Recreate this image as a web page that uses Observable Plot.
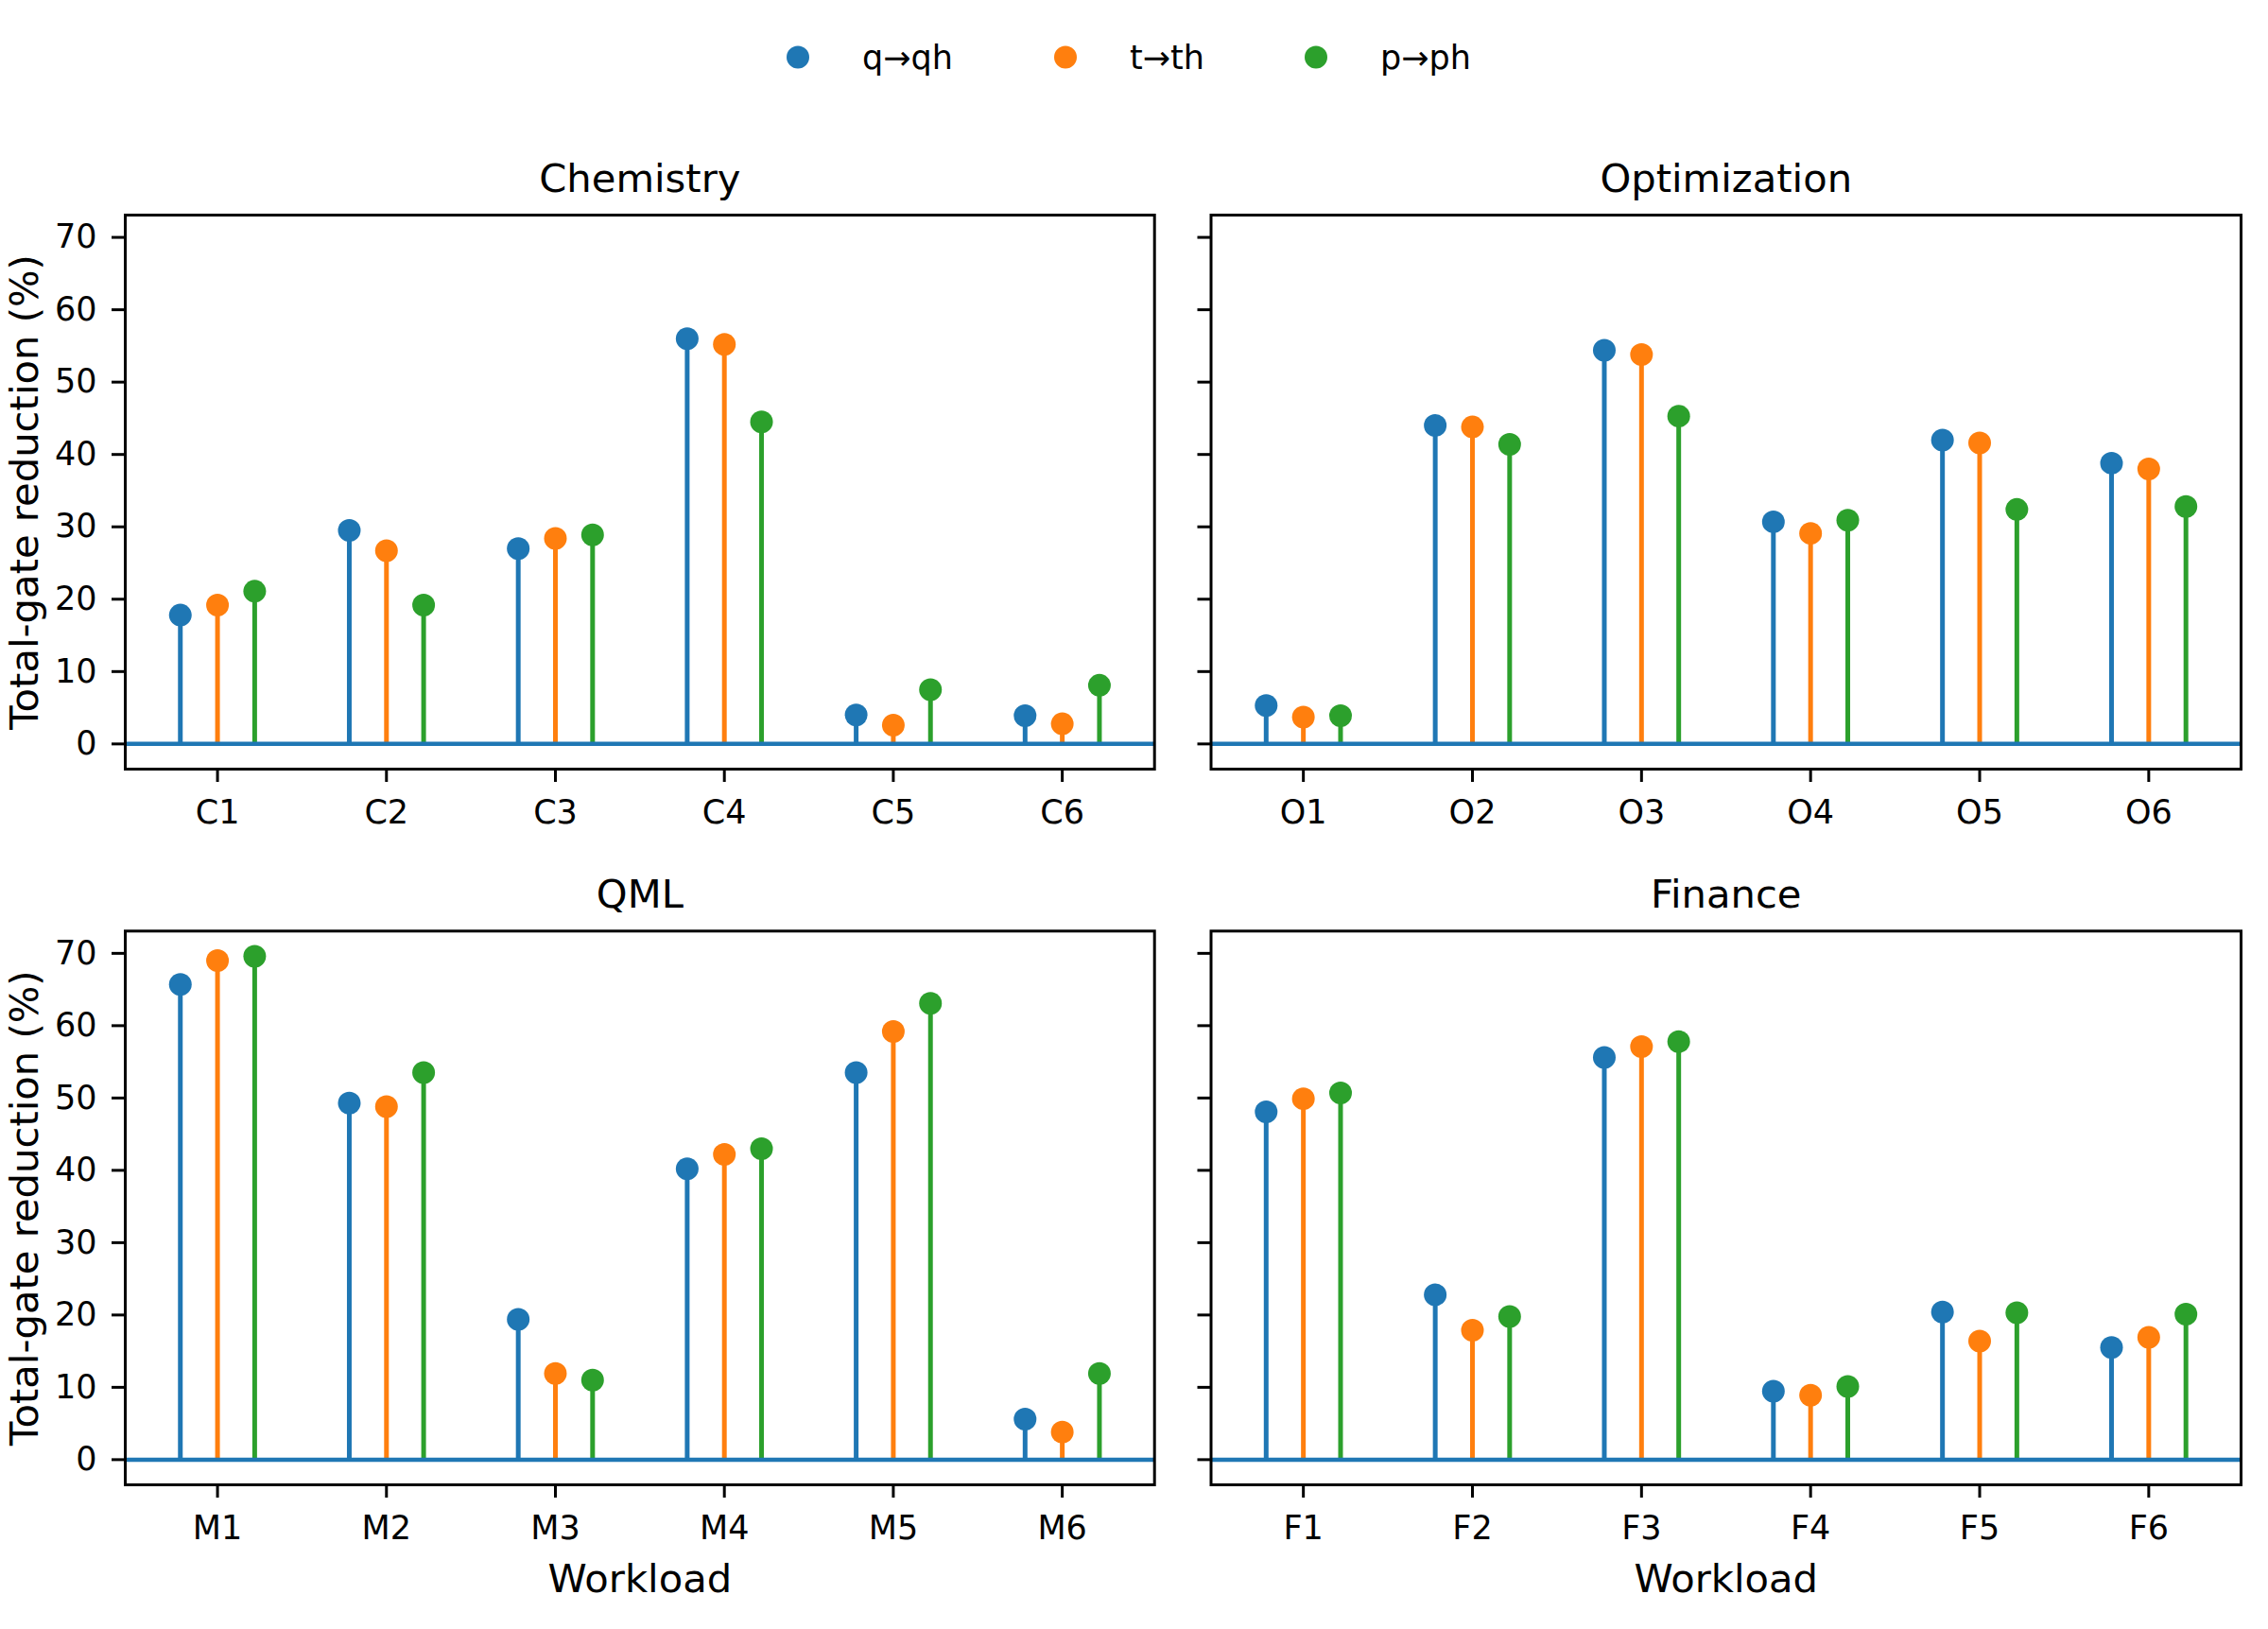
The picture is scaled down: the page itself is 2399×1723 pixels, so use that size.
<!DOCTYPE html>
<html>
<head>
<meta charset="utf-8">
<script src="https://cdn.jsdelivr.net/npm/d3@7"></script>
<script src="https://cdn.jsdelivr.net/npm/@observablehq/plot@0.6"></script>
<style>
  body { margin: 0; background: #fff; }
  #fig { position: relative; width: 2399px; height: 1723px; background: #fff; overflow: hidden;
         font-family: "DejaVu Sans", sans-serif; }
  .panel { position: absolute; }
  .panel svg { overflow: visible; }
</style>
</head>
<body>
<div id="fig"></div>
<script>
// Series (gate substitution) and their colours
const seriesNames = ["q→qh", "t→th", "p→ph"];
const seriesColors = ["#1f77b4", "#ff7f0e", "#2ca02c"];

// Panel titles and workloads
const panelTitles = ["Chemistry", "Optimization", "QML", "Finance"];
const chemistryWorkloads = ["C1", "C2", "C3", "C4", "C5", "C6"];
const optimizationWorkloads = ["O1", "O2", "O3", "O4", "O5", "O6"];
const qmlWorkloads = ["M1", "M2", "M3", "M4", "M5", "M6"];
const financeWorkloads = ["F1", "F2", "F3", "F4", "F5", "F6"];

// Total-gate reduction (%) per workload, one array per series
const chemistryQ = [17.8, 29.5, 27.0, 56.0, 4.0, 3.9];
const chemistryT = [19.2, 26.7, 28.4, 55.2, 2.6, 2.8];
const chemistryP = [21.1, 19.2, 28.9, 44.5, 7.5, 8.1];

const optimizationQ = [5.3, 44.0, 54.4, 30.7, 42.0, 38.8];
const optimizationT = [3.7, 43.8, 53.8, 29.1, 41.6, 38.0];
const optimizationP = [3.9, 41.4, 45.3, 30.9, 32.4, 32.8];

const qmlQ = [65.7, 49.3, 19.4, 40.2, 53.5, 5.6];
const qmlT = [69.0, 48.8, 11.9, 42.2, 59.2, 3.8];
const qmlP = [69.6, 53.5, 11.0, 43.0, 63.1, 11.9];

const financeQ = [48.1, 22.8, 55.6, 9.45, 20.4, 15.5];
const financeT = [49.9, 17.9, 57.1, 8.9, 16.4, 16.9];
const financeP = [50.7, 19.8, 57.8, 10.1, 20.3, 20.1];

const yTicks = [0, 10, 20, 30, 40, 50, 60, 70];
const yLabel = "Total-gate reduction (%)";
const xLabel = "Workload";

// Horizontal shift of each series' stem within a workload group
const seriesShift = [-0.22, 0, 0.22];

const panels = [
  {title: panelTitles[0], workloads: chemistryWorkloads, series: [chemistryQ, chemistryT, chemistryP], col: 0, row: 0},
  {title: panelTitles[1], workloads: optimizationWorkloads, series: [optimizationQ, optimizationT, optimizationP], col: 1, row: 0},
  {title: panelTitles[2], workloads: qmlWorkloads, series: [qmlQ, qmlT, qmlP], col: 0, row: 1},
  {title: panelTitles[3], workloads: financeWorkloads, series: [financeQ, financeT, financeP], col: 1, row: 1}
];

// Shared y range (5% margins around 0..max)
const allValues = panels.flatMap(p => p.series.flat());
const yMax = d3.max(allValues);
const yPad = yMax * 0.05;
const yDomain = [-yPad, yMax + yPad];

const colBox = [
  {left: 0, width: 1240, marginLeft: 132, marginRight: 19.3},
  {left: 1240, width: 1159, marginLeft: 40.5, marginRight: 29}
];
const rowBox = [
  {top: 140, height: 760, marginTop: 87, marginBottom: 87},
  {top: 900, height: 823, marginTop: 84.3, marginBottom: 153}
];

const fig = document.getElementById("fig");

for (const p of panels) {
  const cb = colBox[p.col], rb = rowBox[p.row];
  const rows = [];
  p.series.forEach((vals, s) => {
    vals.forEach((v, i) => rows.push({pos: i + seriesShift[s], value: v, series: seriesNames[s]}));
  });

  const marks = [
    Plot.ruleX(rows, {x: "pos", y1: 0, y2: "value", stroke: "series", strokeWidth: 5}),
    Plot.ruleY([0], {stroke: seriesColors[0], strokeWidth: 4.5}),
    Plot.dot(rows, {x: "pos", y: "value", fill: "series", r: 12, stroke: "none"}),
    Plot.axisX({ticks: d3.range(p.workloads.length), tickFormat: i => p.workloads[i],
      tickSize: 14, tickPadding: 19, strokeWidth: 3, label: null, fontSize: 35}),
    Plot.axisY({ticks: yTicks, tickFormat: p.col === 0 ? d3.format("d") : () => "",
      tickSize: 14, tickPadding: 16, strokeWidth: 3, label: null, fontSize: 35}),
    Plot.text([p.title], {frameAnchor: "top", dy: -25, textAnchor: "middle", lineAnchor: "bottom",
      fontSize: 41.7, fill: "black"}),
    Plot.frame({stroke: "black", strokeWidth: 3})
  ];
  if (p.col === 0) {
    marks.push(Plot.text([yLabel], {frameAnchor: "left", dx: -106, rotate: -90, textAnchor: "middle",
      lineAnchor: "middle", fontSize: 41.7, fill: "black"}));
  }
  if (p.row === 1) {
    marks.push(Plot.text([xLabel], {frameAnchor: "bottom", dy: 113, textAnchor: "middle", lineAnchor: "bottom",
      fontSize: 41.7, fill: "black"}));
  }

  const chart = Plot.plot({
    width: cb.width,
    height: rb.height,
    marginLeft: cb.marginLeft,
    marginRight: cb.marginRight,
    marginTop: rb.marginTop,
    marginBottom: rb.marginBottom,
    style: {fontFamily: "DejaVu Sans, sans-serif", fontSize: "35px", color: "black", background: "white"},
    x: {type: "linear", domain: [-0.546, p.workloads.length - 1 + 0.546]},
    y: {domain: yDomain},
    color: {domain: seriesNames, range: seriesColors},
    marks
  });
  const holder = document.createElement("div");
  holder.className = "panel";
  holder.style.left = cb.left + "px";
  holder.style.top = rb.top + "px";
  holder.appendChild(chart);
  fig.appendChild(holder);
}

// Legend across the top
const legendX = [844, 1127, 1392];
const legend = d3.create("svg")
  .attr("width", 2399).attr("height", 130)
  .style("position", "absolute").style("left", "0px").style("top", "0px")
  .style("font-family", "DejaVu Sans, sans-serif");
seriesNames.forEach((name, i) => {
  legend.append("circle").attr("cx", legendX[i]).attr("cy", 60.5).attr("r", 12).attr("fill", seriesColors[i]);
  legend.append("text").attr("x", legendX[i] + 68).attr("y", 73.3).attr("font-size", 35).attr("fill", "black").text(name);
});
fig.appendChild(legend.node());
</script>
</body>
</html>
